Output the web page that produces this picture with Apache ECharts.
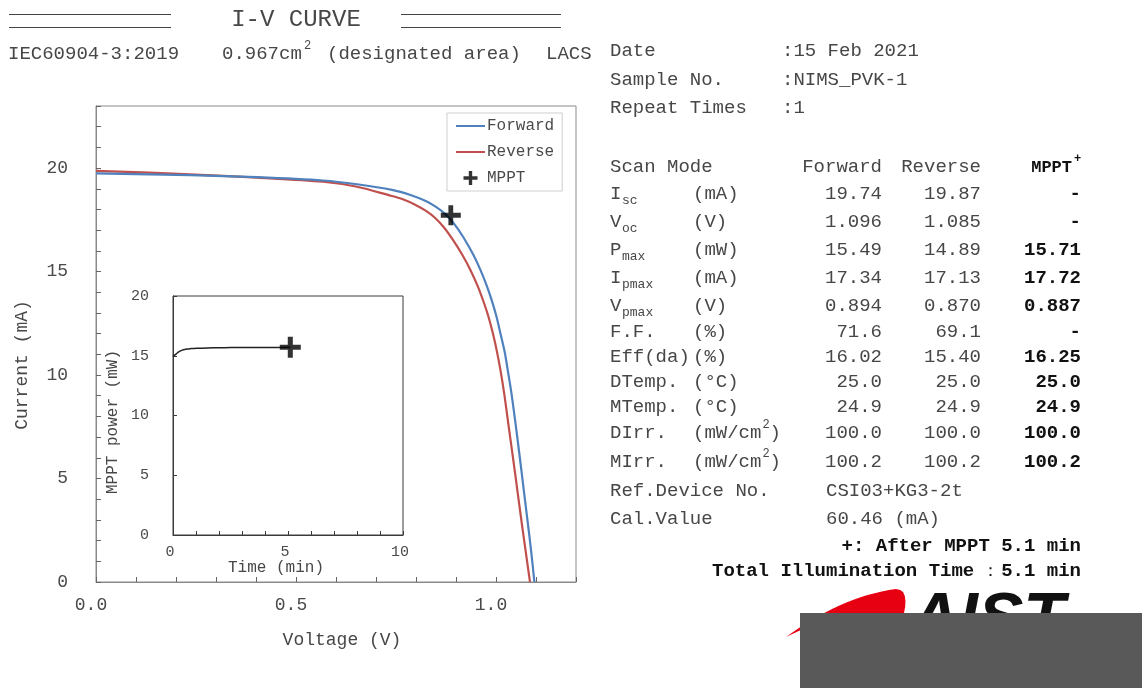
<!DOCTYPE html>
<html>
<head>
<meta charset="utf-8">
<title>I-V CURVE</title>
<script src="https://cdn.jsdelivr.net/npm/echarts@6/dist/echarts.min.js"></script>
<style>
  html, body { margin: 0; padding: 0; background: #fff; }
  #chart { width: 1142px; height: 688px; }
</style>
</head>
<body>
<div id="chart"></div>
<script>
// ---- measured I-V data (voltage in V, current in mA) ----
const forwardVoltage = [0, 0.235, 0.4025, 0.5675, 0.6525, 0.740, 0.788, 0.823, 0.849, 0.872, 0.894, 0.918, 0.943, 0.961, 0.977, 0.989, 1.001, 1.011, 1.022, 1.030, 1.039, 1.049, 1.059, 1.069, 1.079, 1.088, 1.096];
const forwardCurrent = [19.74, 19.66, 19.56, 19.40, 19.22, 18.95, 18.69, 18.42, 18.14, 17.80, 17.34, 16.67, 15.82, 15.08, 14.31, 13.63, 12.84, 12.02, 11.09, 10.16, 9.07, 7.63, 6.10, 4.51, 2.93, 1.47, 0.00];

const reverseVoltage = [0, 0.235, 0.4025, 0.5675, 0.6525, 0.734, 0.767, 0.799, 0.825, 0.848, 0.870, 0.892, 0.916, 0.936, 0.954, 0.968, 0.981, 0.9925, 1.003, 1.012, 1.021, 1.031, 1.042, 1.053, 1.064, 1.0745, 1.085];
const reverseCurrent = [19.87, 19.70, 19.54, 19.34, 19.10, 18.68, 18.49, 18.22, 17.93, 17.59, 17.13, 16.54, 15.80, 15.08, 14.31, 13.59, 12.83, 11.99, 11.07, 10.14, 9.04, 7.61, 6.07, 4.49, 2.90, 1.44, 0.00];

// maximum power point tracking result
const mpptVoltage = 0.887;   // V
const mpptCurrent = 17.72;   // mA
const mpptPmax = 15.71;      // mW
const mpptDuration = 5.1;    // min

// MPPT power trace (time in min, power in mW)
const mpptTime  = [0, 0.1, 0.2, 0.3, 0.45, 0.6, 0.8, 1.0, 1.5, 2.0, 2.5, 3.0, 3.5, 4.0, 4.5, 5.1];
const mpptPower = [14.95, 15.10, 15.25, 15.38, 15.50, 15.56, 15.60, 15.62, 15.65, 15.67, 15.68, 15.69, 15.68, 15.70, 15.70, 15.71];

// ---- result table ----
const headerLabels = ['Date', 'Sample No.', 'Repeat Times'];
const headerValues = [':15 Feb 2021', ':NIMS_PVK-1', ':1'];
const scanModes = ['Forward', 'Reverse', 'MPPT'];
const paramNames = [['I', 'sc'], ['V', 'oc'], ['P', 'max'], ['I', 'pmax'], ['V', 'pmax'], ['F.F.', ''], ['Eff(da)', ''], ['DTemp.', ''], ['MTemp.', ''], ['DIrr.', ''], ['MIrr.', '']];
const paramUnits = ['(mA)', '(V)', '(mW)', '(mA)', '(V)', '(%)', '(%)', '(°C)', '(°C)', '(mW/cm2)', '(mW/cm2)'];
const forwardValues = ['19.74', '1.096', '15.49', '17.34', '0.894', '71.6', '16.02', '25.0', '24.9', '100.0', '100.2'];
const reverseValues = ['19.87', '1.085', '14.89', '17.13', '0.870', '69.1', '15.40', '25.0', '24.9', '100.0', '100.2'];
const mpptValues = ['-', '-', '15.71', '17.72', '0.887', '-', '16.25', '25.0', '24.9', '100.0', '100.2'];

const MONO = '"Liberation Mono", "Courier New", monospace';
const TXT = '#474747';
const PLUS = 'path://M38,0H62V38H100V62H62V100H38V62H0V38H38Z';

function zip(xs, ys) { return xs.map((x, i) => [x, ys[i]]); }

function text(x, y, str, o) {
  o = o || {};
  return {
    type: 'text', x: x, y: y, rotation: o.rotation || 0, z: o.z || 10,
    style: {
      text: str,
      font: (o.bold ? 'bold ' : '') + (o.size || 19) + 'px ' + MONO,
      fill: o.color || TXT,
      align: o.align || 'left', textAlign: o.align || 'left',
      verticalAlign: 'middle', textVerticalAlign: 'middle'
    }
  };
}
function line(x1, y1, x2, y2, color, w) {
  return { type: 'line', z: 10, shape: { x1: x1, y1: y1, x2: x2, y2: y2 }, style: { stroke: color || '#444', lineWidth: w || 1 } };
}
// points along a cubic Bezier segment
function bez(p0, p1, p2, p3, n) {
  const pts = [];
  for (let i = 0; i <= n; i++) {
    const t = i / n, u = 1 - t;
    pts.push([
      u * u * u * p0[0] + 3 * u * u * t * p1[0] + 3 * u * t * t * p2[0] + t * t * t * p3[0],
      u * u * u * p0[1] + 3 * u * u * t * p1[1] + 3 * u * t * t * p2[1] + t * t * t * p3[1]
    ]);
  }
  return pts;
}

// unit text, with "cm2" written as cm plus a raised 2
function unitText(x, y, u, els) {
  const k = u.indexOf('cm2');
  if (k < 0) { els.push(text(x, y, u)); return; }
  const head = u.slice(0, k + 2);
  const cw = 11.4;
  els.push(text(x, y, head));
  els.push(text(x + head.length * cw + 1, y - 8, '2', { size: 12 }));
  els.push(text(x + head.length * cw + 8, y, u.slice(k + 3)));
}

const g = [];
// title with double rules either side
g.push(line(9, 14.5, 171, 14.5), line(9, 27.5, 171, 27.5));
g.push(line(401, 14.5, 561, 14.5), line(401, 27.5, 561, 27.5));
g.push(text(296, 20, 'I-V CURVE', { size: 24, align: 'center' }));
// sub heading
g.push(text(8, 54, 'IEC60904-3:2019'));
g.push(text(222, 54, '0.967cm'));
g.push(text(304, 46, '2', { size: 12 }));
g.push(text(327, 54, '(designated area)'));
g.push(text(546, 54, 'LACS'));

// axis titles
g.push(text(22, 365, 'Current (mA)', { size: 18, rotation: Math.PI / 2, align: 'center' }));
g.push(text(342, 640, 'Voltage (V)', { size: 18, align: 'center' }));
g.push(text(113, 422, 'MPPT power (mW)', { size: 16, rotation: Math.PI / 2, align: 'center' }));
g.push(text(276, 568, 'Time (min)', { size: 16, align: 'center' }));

// header block
const headerY = [51, 80, 108];
headerLabels.forEach((s, i) => {
  g.push(text(610, headerY[i], s));
  g.push(text(782, headerY[i], headerValues[i]));
});

// table
const colRight = [882, 981, 1072];
g.push(text(610, 167, 'Scan Mode'));
g.push(text(colRight[0], 167, scanModes[0], { align: 'right' }));
g.push(text(colRight[1], 167, scanModes[1], { align: 'right' }));
g.push(text(colRight[2], 168, scanModes[2], { align: 'right', bold: true, size: 17, color: '#111' }));
g.push(text(1074, 159, '+', { bold: true, size: 12, color: '#111' }));

const rowY = [194, 222, 250, 278, 306, 332, 357, 382, 407, 433, 462];
paramNames.forEach((p, i) => {
  const y = rowY[i];
  g.push(text(610, y, p[0]));
  if (p[1]) g.push(text(622, y + 7, p[1], { size: 13 }));
  unitText(693, y, paramUnits[i], g);
  g.push(text(882, y, forwardValues[i], { align: 'right' }));
  g.push(text(981, y, reverseValues[i], { align: 'right' }));
  g.push(text(1081, y, mpptValues[i], { align: 'right', bold: true, color: '#111' }));
});
g.push(text(610, 491, 'Ref.Device No.'));
g.push(text(826, 491, 'CSI03+KG3-2t'));
g.push(text(610, 519, 'Cal.Value'));
g.push(text(826, 519, '60.46 (mA)'));
g.push(text(1081, 546, '+: After MPPT ' + mpptDuration.toFixed(1) + ' min', { align: 'right', bold: true, color: '#111' }));
g.push(text(712, 571, 'Total Illumination Time', { bold: true, color: '#111' }));
g.push(text(990, 571, '：', { size: 17, align: 'center', color: '#111' }));
g.push(text(1081, 571, mpptDuration.toFixed(1) + ' min', { align: 'right', bold: true, color: '#111' }));

// logo (lower part hidden behind the grey panel)
const swoosh = []
  .concat(bez([786, 637], [820, 612], [858, 594], [896, 589], 16))
  .concat(bez([896, 589], [906, 589], [907, 600], [904, 613], 6))
  .concat([[878, 613]])
  .concat(bez([878, 613], [850, 614], [815, 622], [786, 637], 12));
g.push({ type: 'polygon', z: 10, shape: { points: swoosh }, style: { fill: '#e60012' } });
g.push({
  type: 'text', x: 910, y: 587, z: 10,
  style: { text: 'AIST', font: 'italic 900 68px "Liberation Sans", Arial, sans-serif', fill: '#111', align: 'left', textAlign: 'left', verticalAlign: 'top', textVerticalAlign: 'top' }
});
g.push({ type: 'rect', z: 11, shape: { x: 800, y: 613, width: 342, height: 75 }, style: { fill: '#595959' } });

const chart = echarts.init(document.getElementById('chart'), null, { renderer: 'canvas' });
chart.setOption({
  backgroundColor: '#fff',
  animation: false,
  textStyle: { fontFamily: MONO },
  grid: [
    { left: 96, top: 106, width: 480, height: 476, show: true, borderColor: '#8a8a8a', borderWidth: 1, backgroundColor: '#fff' },
    { left: 173, top: 296, width: 230, height: 239, show: true, borderColor: '#3a3a3a', borderWidth: 1, backgroundColor: '#fff' }
  ],
  xAxis: [
    {
      type: 'value', gridIndex: 0, min: 0, max: 1.2, interval: 0.1,
      axisLine: { lineStyle: { color: '#8a8a8a' } },
      axisTick: { inside: true, length: 5, lineStyle: { color: '#666' } },
      axisLabel: {
        fontSize: 18, fontFamily: MONO, color: '#4a4a4a', margin: 14, padding: [0, 10, 0, 0],
        formatter: v => (Math.round(v * 10) % 5 === 0 && v <= 1.0001) ? v.toFixed(1) : ''
      },
      splitLine: { show: false }
    },
    {
      type: 'value', gridIndex: 1, min: 0, max: 10, interval: 1,
      axisLine: { lineStyle: { color: '#3a3a3a' } },
      axisTick: { inside: true, length: 4, lineStyle: { color: '#3a3a3a' } },
      axisLabel: {
        fontSize: 15, fontFamily: MONO, color: '#4a4a4a', margin: 10, padding: [0, 6, 0, 0],
        formatter: v => (v % 5 === 0) ? String(v) : ''
      },
      splitLine: { show: false }
    }
  ],
  yAxis: [
    {
      type: 'value', gridIndex: 0, min: 0, max: 23, interval: 1,
      axisLine: { lineStyle: { color: '#8a8a8a' } },
      axisTick: { inside: true, length: 5, lineStyle: { color: '#666' } },
      axisLabel: {
        fontSize: 18, fontFamily: MONO, color: '#4a4a4a', margin: 28,
        formatter: v => (v % 5 === 0) ? String(v) : ''
      },
      splitLine: { show: false }
    },
    {
      type: 'value', gridIndex: 1, min: 0, max: 20, interval: 5,
      axisLine: { lineStyle: { color: '#3a3a3a' } },
      axisTick: { inside: true, length: 4, lineStyle: { color: '#3a3a3a' } },
      axisLabel: { fontSize: 15, fontFamily: MONO, color: '#4a4a4a', margin: 24 },
      splitLine: { show: false }
    }
  ],
  legend: {
    orient: 'vertical', left: 447, top: 113,
    padding: [5, 8, 5, 8], itemGap: 10, itemWidth: 29, itemHeight: 14,
    backgroundColor: '#fff', borderColor: '#cfcfcf', borderWidth: 1,
    textStyle: { fontFamily: MONO, fontSize: 16, color: '#4a4a4a', padding: [0, 0, 0, -3] },
    data: [
      { name: 'Forward', itemStyle: { opacity: 0 } },
      { name: 'Reverse', itemStyle: { opacity: 0 } },
      { name: 'MPPT', icon: PLUS, itemStyle: { color: '#000' } }
    ]
  },
  series: [
    {
      name: 'Forward', type: 'line', xAxisIndex: 0, yAxisIndex: 0,
      data: zip(forwardVoltage, forwardCurrent), symbol: 'none', smooth: 0.3,
      lineStyle: { color: '#4F81BD', width: 2.2 }, itemStyle: { color: '#4F81BD' }, z: 3
    },
    {
      name: 'Reverse', type: 'line', xAxisIndex: 0, yAxisIndex: 0,
      data: zip(reverseVoltage, reverseCurrent), symbol: 'none', smooth: 0.3,
      lineStyle: { color: '#C0504D', width: 2.2 }, itemStyle: { color: '#C0504D' }, z: 2
    },
    {
      name: 'MPPT', type: 'scatter', xAxisIndex: 0, yAxisIndex: 0,
      data: [[mpptVoltage, mpptCurrent]], symbol: PLUS, symbolSize: 20,
      itemStyle: { color: '#000' }, z: 5
    },
    {
      name: 'MPPT trace', type: 'line', xAxisIndex: 1, yAxisIndex: 1,
      data: zip(mpptTime, mpptPower), symbol: 'none', smooth: 0.5,
      lineStyle: { color: '#222', width: 1.5 }, z: 4
    },
    {
      name: 'MPPT', type: 'scatter', xAxisIndex: 1, yAxisIndex: 1,
      data: [[mpptDuration, mpptPmax]], symbol: PLUS, symbolSize: 21,
      itemStyle: { color: '#000' }, z: 5
    }
  ],
  graphic: { elements: g }
});
</script>
</body>
</html>
